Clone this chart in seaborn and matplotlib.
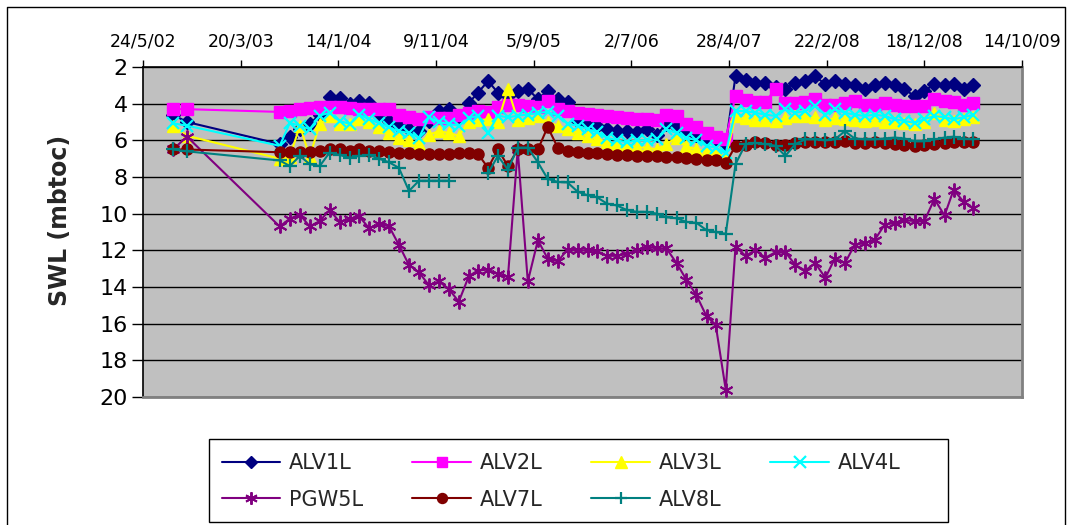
import numpy as np
import pandas as pd
import matplotlib
matplotlib.use("Agg")
import matplotlib.pyplot as plt
import matplotlib.dates as mdates
from matplotlib.lines import Line2D
from matplotlib.patches import Rectangle
import seaborn as sns

# ---------------- data ----------------
DATES = [
    "2002-08-24", "2002-10-06",
    "2003-07-18", "2003-08-18", "2003-09-18", "2003-10-18", "2003-11-18", "2003-12-18",
    "2004-01-18", "2004-02-18", "2004-03-18", "2004-04-18", "2004-05-18", "2004-06-18",
    "2004-07-18", "2004-08-18", "2004-09-18", "2004-10-18", "2004-11-18", "2004-12-18",
    "2005-01-18", "2005-02-18", "2005-03-18", "2005-04-18", "2005-05-18", "2005-06-18",
    "2005-07-18", "2005-08-18", "2005-09-18", "2005-10-18", "2005-11-18", "2005-12-18",
    "2006-01-18", "2006-02-18", "2006-03-18", "2006-04-18", "2006-05-18", "2006-06-18",
    "2006-07-18", "2006-08-18", "2006-09-18", "2006-10-18", "2006-11-18", "2006-12-18",
    "2007-01-18", "2007-02-18", "2007-03-18", "2007-04-18", "2007-05-18", "2007-06-18",
    "2007-07-18", "2007-08-18", "2007-09-18", "2007-10-18", "2007-11-18", "2007-12-18",
    "2008-01-18", "2008-02-18", "2008-03-18", "2008-04-18", "2008-05-18", "2008-06-18",
    "2008-07-18", "2008-08-18", "2008-09-18", "2008-10-18", "2008-11-18", "2008-12-18",
    "2009-01-18", "2009-02-18", "2009-03-18", "2009-04-18", "2009-05-18",
]

SERIES = ["ALV1L", "ALV2L", "ALV3L", "ALV4L", "PGW5L", "ALV7L", "ALV8L"]

ALV1L = [4.6, 5.0,
         6.2, 5.8, 5.4, 5.1, 4.6, 3.65, 3.7, 4.0, 3.85, 3.95, 4.5, 4.95, 5.2, 5.4, 5.5, 4.95,
         4.4, 4.3, 4.67, 3.95, 3.4, 2.76, 3.4, 3.6, 3.3, 3.2, 3.75, 3.3, 3.75, 3.9,
         4.95, 5.1, 5.2, 5.4, 5.5, 5.5, 5.55, 5.4, 5.7, 5.1, 5.25, 5.5, 5.7, 5.85, 5.95, 6.2,
         2.5, 2.7, 2.85, 2.85, 3.1, 3.2, 2.85, 2.76, 2.5, 2.95, 2.76, 2.95, 3.0, 3.2, 3.0,
         2.85, 3.0, 3.2, 3.6, 3.3, 2.95, 3.0, 2.95, 3.2, 3.0]

ALV2L = [4.3, 4.3,
         4.45, 4.4, 4.3, 4.25, 4.2, 4.2, 4.2, 4.25, 4.3, 4.3, 4.3, 4.3, 4.6, 4.75, 4.85, 4.75,
         4.8, 4.8, 4.6, 4.5, 4.4, 4.45, 4.2, 4.1, 4.1, 4.15, 4.2, 3.85, 4.3, 4.4,
         4.5, 4.55, 4.6, 4.7, 4.75, 4.8, 4.85, 4.85, 4.9, 4.6, 4.65, 5.1, 5.3, 5.6, 5.8, 5.9,
         3.6, 3.8, 3.9, 3.9, 3.2, 3.95, 3.95, 3.9, 3.75, 4.1, 4.1, 3.95, 3.85, 4.1, 4.1,
         3.95, 4.1, 4.15, 4.15, 4.15, 3.75, 3.85, 3.9, 4.05, 3.95]

ALV3L = [5.2, 5.75,
         7.0, 6.9, 5.2, 6.9, 5.1, 4.7, 5.1, 5.1, 4.85, 5.0, 5.3, 5.6, 5.85, 6.0, 6.2, 5.7,
         5.5, 5.6, 5.75, 5.0, 4.9, 4.85, 5.0, 3.2, 4.9, 4.8, 4.7, 5.0, 5.2, 5.4,
         5.6, 5.75, 5.9, 6.1, 6.2, 6.3, 6.35, 6.4, 6.5, 6.2, 5.85, 6.3, 6.5, 6.6, 6.7, 6.9,
         4.7, 4.8, 4.9, 4.9, 4.95, 4.8, 4.7, 4.7, 4.75, 4.9, 4.8, 4.85, 4.9, 4.95, 4.9,
         5.0, 5.0, 5.05, 5.1, 5.0, 4.5, 4.9, 4.95, 4.85, 4.75]

ALV4L = [5.07, 5.2,
         6.3, 5.05, 5.2, 5.4, 4.65, 4.5, 4.95, 5.1, 4.6, 4.85, 5.05, 5.3, 5.5, 5.6, 5.85, 4.75,
         5.0, 5.1, 5.2, 4.8, 4.65, 5.6, 4.65, 4.75, 4.65, 4.6, 4.5, 4.45, 4.65, 5.1,
         5.2, 5.4, 5.55, 5.85, 6.0, 6.1, 6.0, 6.0, 5.95, 5.4, 5.6, 5.85, 6.0, 6.3, 6.4, 6.7,
         4.4, 4.4, 4.5, 4.6, 4.67, 4.3, 4.5, 4.4, 4.13, 4.6, 4.3, 4.5, 4.6, 4.67, 4.6,
         4.67, 4.85, 4.95, 5.05, 4.85, 4.67, 4.75, 4.85, 4.75, 4.6]

PGW5L = [6.5, 5.8,
         10.7, 10.27, 10.05, 10.7, 10.4, 9.8, 10.45, 10.27, 10.15, 10.8, 10.55, 10.7, 11.7, 12.8, 13.2, 13.9,
         13.7, 14.1, 14.8, 13.4, 13.1, 13.05, 13.3, 13.45, 6.5, 13.7, 11.45, 12.45, 12.6, 11.96,
         12.0, 12.0, 12.05, 12.3, 12.3, 12.2, 12.0, 11.8, 11.9, 11.9, 12.7, 13.6, 14.45, 15.6, 16.05, 19.6,
         11.8, 12.3, 12.0, 12.4, 12.1, 12.1, 12.8, 13.1, 12.7, 13.5, 12.45, 12.7, 11.7, 11.6, 11.45,
         10.6, 10.5, 10.36, 10.4, 10.4, 9.2, 10.1, 8.7, 9.36, 9.7]

ALV7L = [6.5, 6.5,
         6.65, 6.65, 6.65, 6.65, 6.6, 6.5, 6.5, 6.6, 6.45, 6.6, 6.6, 6.65, 6.7, 6.7, 6.75, 6.75,
         6.75, 6.75, 6.7, 6.7, 6.75, 7.5, 6.5, 7.4, 6.5, 6.5, 6.5, 5.27, 6.4, 6.6,
         6.65, 6.7, 6.7, 6.75, 6.8, 6.8, 6.85, 6.85, 6.85, 6.9, 6.9, 6.95, 7.0, 7.05, 7.1, 7.25,
         6.3, 6.25, 6.1, 6.15, 6.25, 6.25, 6.15, 6.1, 6.1, 6.1, 6.1, 6.05, 6.15, 6.15, 6.1,
         6.15, 6.2, 6.25, 6.3, 6.25, 6.2, 6.15, 6.1, 6.1, 6.1]

ALV8L = [6.5, 6.6,
         7.1, 7.4, 6.85, 7.3, 7.4, 6.67, 6.8, 6.95, 6.85, 6.8, 7.0, 7.2, 7.5, 8.76, 8.2, 8.2,
         8.2, 8.2, np.nan, np.nan, np.nan, 7.8, 6.85, 7.6, 6.4, 6.4, 7.2, 8.1, 8.27, 8.3,
         8.8, 9.0, 9.1, 9.45, 9.55, 9.8, 9.9, 9.9, 10.0, 10.2, 10.25, 10.45, 10.5, 10.9, 11.0, 11.1,
         7.3, 6.2, 6.15, 6.2, 6.3, 6.85, 6.2, 5.95, 5.95, 6.0, 5.95, 5.5, 5.9, 5.95, 5.95,
         5.9, 5.85, 5.9, 6.05, 6.05, 5.95, 5.85, 5.8, 5.9, 5.95]

X_TICK_LABELS = ["24/5/02", "20/3/03", "14/1/04", "9/11/04", "5/9/05",
                 "2/7/06", "28/4/07", "22/2/08", "18/12/08", "14/10/09"]
Y_TICKS = [2, 4, 6, 8, 10, 12, 14, 16, 18, 20]
Y_LABEL = "SWL (mbtoc)"

# ---------------- styles ----------------
COLORS = {"ALV1L": "#000080", "ALV2L": "#FF00FF", "ALV3L": "#FFFF00", "ALV4L": "#00FFFF",
          "PGW5L": "#800080", "ALV7L": "#800000", "ALV8L": "#008080"}
MARKERS = {"ALV1L": "D", "ALV2L": "s", "ALV3L": "^", "ALV4L": "x",
           "PGW5L": (6, 2, 0), "ALV7L": "o", "ALV8L": "+"}
MSIZE = {"ALV1L": 7, "ALV2L": 8, "ALV3L": 9, "ALV4L": 9,
         "PGW5L": 10, "ALV7L": 8, "ALV8L": 10}
MEW = {"ALV1L": 1, "ALV2L": 1, "ALV3L": 1, "ALV4L": 1.6,
       "PGW5L": 1.4, "ALV7L": 1, "ALV8L": 1.6}

sns.set_theme(style="white")
plt.rcParams['font.family'] = ['DejaVu Sans']

W, H = 1073, 525
fig = plt.figure(figsize=(W / 100, H / 100), dpi=100)
fig.patch.set_facecolor("white")
ax = fig.add_axes([143 / W, 1 - 397 / H, (1022 - 143) / W, (397 - 67) / H])
ax.set_facecolor("#C0C0C0")

dates = pd.to_datetime(DATES)
VALUES = [ALV1L, ALV2L, ALV3L, ALV4L, PGW5L, ALV7L, ALV8L]
for name, vals in zip(SERIES, VALUES):
    df = pd.DataFrame({"date": dates, "value": vals})
    df["seg"] = df["value"].isna().cumsum()
    df = df.dropna()
    c = COLORS[name]
    sns.lineplot(data=df, x="date", y="value", units="seg", estimator=None, sort=False,
                 color=c, marker=MARKERS[name], markersize=MSIZE[name],
                 markerfacecolor=c, markeredgecolor=c, markeredgewidth=MEW[name],
                 linewidth=1.5, ax=ax, legend=False, zorder=3)

# axes
tick_dates = pd.to_datetime(X_TICK_LABELS, format="%d/%m/%y")
tick_nums = mdates.date2num(tick_dates)
ax.set_xlim(tick_nums[0], tick_nums[-1])
ax.set_xticks(tick_nums)
ax.set_xticklabels(X_TICK_LABELS)
ax.xaxis.tick_top()
ax.tick_params(axis="x", top=True, bottom=False, labeltop=True, labelbottom=False,
               direction="out", length=5, width=1, pad=7, labelsize=12.5, colors="black")
ax.set_ylim(20, 2)
ax.set_yticks(Y_TICKS)
ax.set_yticklabels([str(v) for v in Y_TICKS])
ax.tick_params(axis="y", left=True, direction="out", length=8, width=1, pad=3,
               labelsize=16, colors="black")
ax.set_xlabel("")
ax.set_ylabel(Y_LABEL, fontsize=17, fontweight="bold")
ax.yaxis.set_label_coords(-0.081, 0.536)

ax.yaxis.grid(True, color="black", linewidth=1)
ax.xaxis.grid(False)
ax.set_axisbelow(True)
for s in ["left", "top"]:
    ax.spines[s].set_color("black")
    ax.spines[s].set_linewidth(1.2)
for s in ["right", "bottom"]:
    ax.spines[s].set_color("#808080")
    ax.spines[s].set_linewidth(2)

# legend (row-wise order like the original: matplotlib fills columns first)
order = ["ALV1L", "PGW5L", "ALV2L", "ALV7L", "ALV3L", "ALV8L", "ALV4L"]
handles = [Line2D([], [], color=COLORS[n], marker=MARKERS[n], markersize=MSIZE[n] * 0.9,
                  markerfacecolor=COLORS[n], markeredgecolor=COLORS[n],
                  markeredgewidth=MEW[n], linewidth=1.5) for n in order]
leg = fig.legend(handles, order, loc="upper left",
                 bbox_to_anchor=(222 / W, 1 - 453 / H),
                 ncol=4, fontsize=15, frameon=False, borderaxespad=0, borderpad=0,
                 handlelength=2.8, handletextpad=0.43, labelspacing=0.8, columnspacing=2.35)
fig.add_artist(Rectangle((209 / W, 1 - 522 / H), 739 / W, 83 / H, transform=fig.transFigure,
                         fill=False, edgecolor="black", linewidth=1))

# outer chart frame
fig.add_artist(Line2D([7 / W, 7 / W, 1065 / W, 1065 / W], [0, 1 - 7 / H, 1 - 7 / H, 0],
                      transform=fig.transFigure, color="black", linewidth=1))

fig.savefig("out.png", dpi=100, facecolor="white")
